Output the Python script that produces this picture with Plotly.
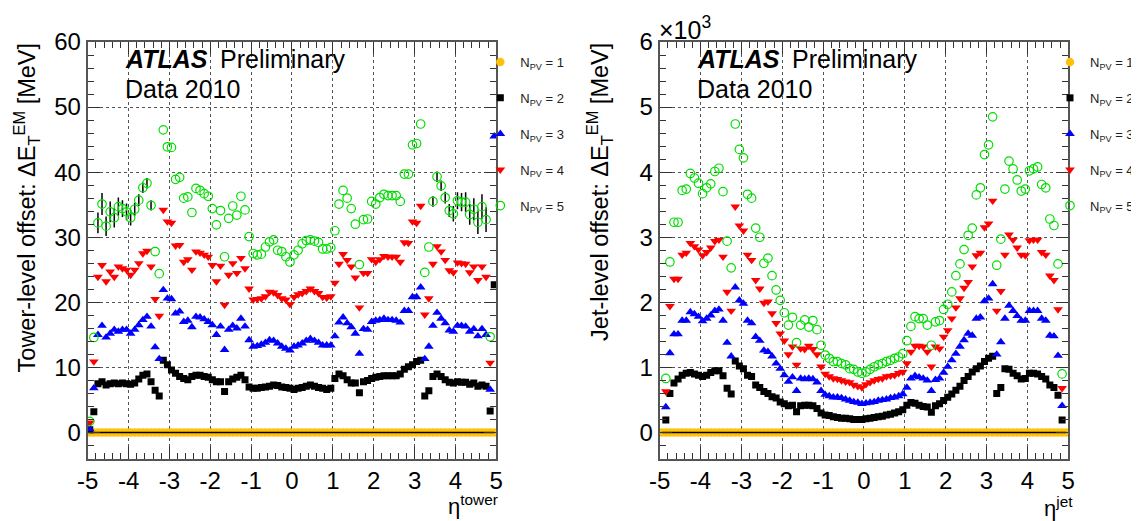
import plotly.graph_objects as go

# ---------------- data ----------------
eta_bins = [
    -4.95, -4.85, -4.75, -4.65, -4.55, -4.45, -4.35, -4.25, -4.15, -4.05,
    -3.95, -3.85, -3.75, -3.65, -3.55, -3.45, -3.35, -3.25, -3.15, -3.05,
    -2.95, -2.85, -2.75, -2.65, -2.55, -2.45, -2.35, -2.25, -2.15, -2.05,
    -1.95, -1.85, -1.75, -1.65, -1.55, -1.45, -1.35, -1.25, -1.15, -1.05,
    -0.95, -0.85, -0.75, -0.65, -0.55, -0.45, -0.35, -0.25, -0.15, -0.05,
    0.05, 0.15, 0.25, 0.35, 0.45, 0.55, 0.65, 0.75, 0.85, 0.95,
    1.05, 1.15, 1.25, 1.35, 1.45, 1.55, 1.65, 1.75, 1.85, 1.95,
    2.05, 2.15, 2.25, 2.35, 2.45, 2.55, 2.65, 2.75, 2.85, 2.95,
    3.05, 3.15, 3.25, 3.35, 3.45, 3.55, 3.65, 3.75, 3.85, 3.95,
    4.05, 4.15, 4.25, 4.35, 4.45, 4.55, 4.65, 4.75, 4.85, 4.95,
]

npv1_zero = [
    0, 0, 0, 0, 0, 0, 0, 0, 0, 0,
    0, 0, 0, 0, 0, 0, 0, 0, 0, 0,
    0, 0, 0, 0, 0, 0, 0, 0, 0, 0,
    0, 0, 0, 0, 0, 0, 0, 0, 0, 0,
    0, 0, 0, 0, 0, 0, 0, 0, 0, 0,
    0, 0, 0, 0, 0, 0, 0, 0, 0, 0,
    0, 0, 0, 0, 0, 0, 0, 0, 0, 0,
    0, 0, 0, 0, 0, 0, 0, 0, 0, 0,
    0, 0, 0, 0, 0, 0, 0, 0, 0, 0,
    0, 0, 0, 0, 0, 0, 0, 0, 0, 0,
]

# Tower-level offset [MeV]
tower_npv2 = [
    0.4, 3.2, 7.5, 7.8, 7.3, 7.5, 7.6, 7.5, 7.6, 7.5,
    7.4, 7.6, 8.2, 8.8, 9.0, 7.8, 6.5, 5.6, 11.1, 10.4,
    9.6, 9.1, 8.6, 8.3, 8.1, 8.6, 8.8, 8.8, 8.6, 8.5,
    8.1, 7.8, 7.8, 6.3, 7.8, 8.2, 8.5, 8.8, 8.1, 7.0,
    6.8, 6.8, 6.9, 7.0, 7.1, 7.3, 7.2, 7.0, 6.9, 6.8,
    6.6, 6.8, 6.9, 7.1, 7.3, 7.1, 6.9, 6.8, 6.6, 6.8,
    8.3, 9.0, 8.7, 8.1, 7.6, 7.6, 6.1, 7.8, 8.0, 8.3,
    8.5, 8.6, 8.7, 8.7, 8.7, 8.7, 9.0, 9.7, 10.1, 10.4,
    10.9, 11.1, 5.6, 6.4, 8.6, 9.0, 8.6, 8.1, 7.7, 7.6,
    7.8, 7.7, 7.7, 7.4, 7.6, 7.1, 7.3, 7.1, 3.3, 22.7,
]
tower_npv3 = [
    0.5, 6.8, 15.0, 16.4, 14.6, 15.2, 15.8, 15.5, 15.8, 15.8,
    15.2, 15.8, 16.5, 17.3, 17.8, 16.3, 13.1, 11.3, 21.9, 20.6,
    20.5, 18.3, 18.6, 17.0, 17.2, 16.2, 17.8, 17.7, 17.4, 17.0,
    16.5, 15.0, 16.3, 12.7, 15.8, 16.4, 16.0, 17.5, 16.3, 14.2,
    13.2, 13.3, 13.5, 13.8, 14.2, 14.1, 13.7, 13.2, 12.9, 12.6,
    13.2, 13.4, 13.7, 14.1, 14.4, 14.1, 13.8, 13.4, 13.4, 13.4,
    14.8, 16.9, 17.7, 16.8, 16.2, 15.2, 12.1, 15.9, 15.8, 17.0,
    17.2, 17.3, 17.5, 17.3, 17.3, 17.2, 16.9, 18.7, 18.7, 20.8,
    20.8, 22.3, 11.3, 13.2, 16.4, 18.4, 17.5, 16.8, 15.7, 15.5,
    16.4, 16.4, 16.3, 15.5, 15.9, 14.8, 15.9, 15.0, 6.6, 45.5,
]
tower_npv4 = [
    1.5, 10.9, 23.9, 25.7, 23.2, 24.7, 23.9, 25.5, 25.2, 25.0,
    24.2, 25.0, 26.0, 27.5, 27.9, 25.5, 20.5, 17.9, 34.2, 32.4,
    32.2, 28.7, 28.8, 26.2, 26.6, 25.0, 27.8, 27.6, 27.3, 27.0,
    25.7, 23.2, 25.6, 19.6, 24.2, 26.0, 24.5, 26.8, 25.2, 22.1,
    20.4, 20.5, 20.6, 20.9, 21.6, 21.5, 21.1, 20.6, 20.4, 19.7,
    20.8, 21.2, 21.4, 21.7, 22.1, 21.7, 21.4, 20.8, 20.7, 20.9,
    23.0, 25.9, 27.4, 26.5, 25.5, 23.8, 19.2, 24.5, 24.5, 26.6,
    26.2, 26.6, 27.1, 27.0, 27.0, 27.0, 26.2, 29.2, 29.1, 32.4,
    32.2, 34.8, 18.1, 20.6, 25.9, 28.6, 27.8, 26.5, 24.9, 24.6,
    26.1, 26.0, 25.9, 24.6, 25.5, 23.4, 25.5, 23.9, 10.7, None,
]
tower_npv5 = [
    1.7, 14.6, 32.2, 35.1, 31.7, 33.9, 33.0, 34.7, 34.4, 33.9,
    33.0, 34.3, 35.7, 37.6, 38.3, 34.9, 27.8, 24.4, 46.5, 43.9,
    43.8, 38.9, 39.2, 36.0, 36.2, 33.8, 37.5, 37.2, 36.7, 36.3,
    34.4, 31.9, 34.1, 27.0, 32.9, 34.8, 33.4, 36.3, 34.2, 30.1,
    27.5, 27.3, 27.4, 28.5, 29.3, 29.6, 28.0, 27.8, 27.0, 26.2,
    27.3, 28.0, 29.0, 29.5, 29.6, 29.4, 29.2, 28.2, 28.2, 28.4,
    31.0, 35.1, 37.2, 36.0, 34.4, 32.0, 25.8, 32.7, 32.8, 35.5,
    35.1, 36.1, 36.6, 36.4, 36.4, 36.4, 35.5, 39.7, 39.7, 44.2,
    44.4, 47.4, 24.6, 28.5, 35.5, 39.3, 37.9, 36.1, 34.1, 33.6,
    35.6, 35.4, 35.4, 33.5, 34.3, 32.3, 34.7, 32.7, 14.7, None,
]
tower_npv5_err = [
    0.0, 0.0, 1.6, 1.7, 1.5, 1.6, 1.5, 1.4, 1.3, 1.3,
    1.2, 1.0, 0.9, 0.8, 0.8, 0.8, 0.0, 0.0, 0.0, 0.0,
    0.0, 0.0, 0.0, 0.0, 0.0, 0.0, 0.0, 0.0, 0.0, 0.0,
    0.0, 0.0, 0.0, 0.0, 0.0, 0.0, 0.0, 0.0, 0.0, 0.0,
    0.0, 0.0, 0.0, 0.0, 0.0, 0.0, 0.0, 0.0, 0.0, 0.0,
    0.0, 0.0, 0.0, 0.0, 0.0, 0.0, 0.0, 0.0, 0.0, 0.0,
    0.0, 0.0, 0.0, 0.0, 0.0, 0.0, 0.0, 0.0, 0.0, 0.0,
    0.0, 0.0, 0.0, 0.0, 0.0, 0.0, 0.0, 0.0, 0.0, 0.0,
    0.0, 0.0, 0.0, 0.0, 0.8, 0.8, 0.8, 0.9, 1.0, 1.2,
    1.3, 1.4, 1.5, 1.6, 1.7, 1.8, 1.9, 1.9, 0.0, 0.0,
]

# Jet-level offset [10^3 MeV]
jet_npv2 = [
    None, 0.19, 0.60, 0.76, 0.82, 0.88, 0.91, 0.92, 0.90, 0.88,
    0.86, 0.88, 0.92, 0.95, 0.95, 0.87, 0.68, 0.59, 1.10, 1.02,
    0.98, 0.88, 0.86, 0.73, 0.69, 0.63, 0.60, 0.55, 0.53, 0.47,
    0.44, 0.41, 0.42, 0.32, 0.41, 0.42, 0.42, 0.41, 0.37, 0.30,
    0.27, 0.26, 0.24, 0.23, 0.22, 0.22, 0.21, 0.20, 0.20, 0.20,
    0.21, 0.22, 0.23, 0.24, 0.25, 0.27, 0.28, 0.30, 0.32, 0.35,
    0.42, 0.46, 0.45, 0.42, 0.40, 0.39, 0.31, 0.41, 0.44, 0.49,
    0.54, 0.59, 0.65, 0.71, 0.80, 0.86, 0.93, 0.98, 1.02, 1.09,
    1.14, 1.17, 0.60, 0.69, 0.98, 0.97, 0.91, 0.87, 0.82, 0.83,
    0.91, 0.91, 0.90, 0.86, 0.82, 0.73, 0.69, 0.57, 0.19, None,
]
jet_npv3 = [
    None, 0.39, 1.22, 1.51, 1.51, 1.72, 1.72, 1.85, 1.82, 1.78,
    1.71, 1.75, 1.80, 1.87, 1.89, 1.72, 1.38, 1.17, 2.23, 2.03,
    1.98, 1.72, 1.68, 1.47, 1.41, 1.26, 1.24, 1.17, 1.06, 0.98,
    0.88, 0.78, 0.85, 0.64, 0.83, 0.82, 0.83, 0.82, 0.77, 0.64,
    0.58, 0.56, 0.54, 0.54, 0.53, 0.51, 0.49, 0.47, 0.46, 0.44,
    0.45, 0.46, 0.47, 0.49, 0.50, 0.51, 0.53, 0.54, 0.56, 0.59,
    0.69, 0.83, 0.87, 0.85, 0.83, 0.80, 0.64, 0.81, 0.83, 0.92,
    1.01, 1.11, 1.21, 1.32, 1.42, 1.52, 1.49, 1.75, 1.77, 2.02,
    2.06, 2.28, 1.20, 1.39, 1.75, 1.95, 1.87, 1.79, 1.72, 1.72,
    1.87, 1.87, 1.87, 1.75, 1.72, 1.49, 1.48, 1.18, 0.41, None,
]
jet_npv4 = [
    None, 0.63, 1.94, 2.36, 2.36, 2.73, 2.76, 2.91, 2.86, 2.81,
    2.72, 2.77, 2.84, 2.94, 2.96, 2.70, 2.16, 1.87, 3.47, 3.18,
    3.10, 2.73, 2.65, 2.34, 2.21, 1.99, 2.01, 1.83, 1.68, 1.52,
    1.41, 1.20, 1.32, 1.04, 1.29, 1.28, 1.33, 1.28, 1.20, 1.01,
    0.90, 0.86, 0.83, 0.82, 0.80, 0.78, 0.77, 0.73, 0.71, 0.69,
    0.74, 0.77, 0.80, 0.82, 0.83, 0.86, 0.87, 0.88, 0.91, 0.93,
    1.06, 1.24, 1.33, 1.33, 1.32, 1.24, 1.01, 1.32, 1.29, 1.47,
    1.57, 1.75, 1.92, 2.06, 2.22, 2.31, 2.55, 2.72, 2.76, 3.15,
    3.21, 3.56, 1.87, 2.17, 2.73, 3.04, 2.96, 2.84, 2.73, 2.72,
    2.95, 2.96, 2.96, 2.77, 2.73, 2.41, 2.34, 1.89, 0.68, None,
]
jet_npv5 = [
    None, 0.83, 2.62, 3.23, 3.23, 3.72, 3.74, 3.98, 3.91, 3.83,
    3.67, 3.76, 3.82, 4.01, 4.06, 3.70, 2.94, 2.53, 4.74, 4.35,
    4.22, 3.66, 3.60, 3.14, 3.00, 2.60, 2.68, 2.41, 2.19, 2.03,
    1.84, 1.65, 1.77, 1.38, 1.65, 1.73, 1.62, 1.72, 1.58, 1.34,
    1.19, 1.14, 1.09, 1.09, 1.06, 1.04, 0.98, 0.97, 0.93, 0.91,
    0.93, 0.97, 1.01, 1.04, 1.06, 1.09, 1.11, 1.14, 1.16, 1.21,
    1.41, 1.63, 1.78, 1.75, 1.75, 1.65, 1.34, 1.70, 1.72, 1.89,
    1.97, 2.16, 2.41, 2.59, 2.81, 3.03, 3.14, 3.65, 3.76, 4.27,
    4.42, 4.85, 2.57, 2.97, 3.74, 4.17, 4.05, 3.88, 3.71, 3.74,
    4.02, 4.05, 4.08, 3.81, 3.76, 3.28, 3.18, 2.59, 0.90, None,
]

series_labels = ["N<sub>PV</sub> = 1", "N<sub>PV</sub> = 2", "N<sub>PV</sub> = 3",
                 "N<sub>PV</sub> = 4", "N<sub>PV</sub> = 5"]
left_yticks = [0, 10, 20, 30, 40, 50, 60]
right_yticks = [0, 1, 2, 3, 4, 5, 6]
x_ticks = [-5, -4, -3, -2, -1, 0, 1, 2, 3, 4, 5]

# ---------------- style ----------------
FONT = "Liberation Sans, Arial, Helvetica, sans-serif"
OFF = 8                      # page body margin of the browser
W, H = 1139 - OFF, 521 - OFF


def pxx(p):
    return (p - OFF) / W


def pxy(p):
    return 1 - (p - OFF) / H


marker_styles = [
    dict(symbol="circle", size=8.5, color="#FFC20A"),
    dict(symbol="square", size=7, color="black"),
    dict(symbol="triangle-up", size=8.5, color="#0000FF"),
    dict(symbol="triangle-down", size=8.5, color="#FF0000"),
    dict(symbol="circle-open", size=8.5, color="#00DD00", line=dict(width=1.2, color="#00DD00")),
]

fig = go.Figure()

panels = [
    dict(xa="x", ya="y", leg="legend",
         series=[npv1_zero, tower_npv2, tower_npv3, tower_npv4, tower_npv5],
         err5=tower_npv5_err),
    dict(xa="x2", ya="y2", leg="legend2",
         series=[npv1_zero, jet_npv2, jet_npv3, jet_npv4, jet_npv5],
         err5=None),
]

for p in panels:
    for k, (vals, ms, lab) in enumerate(zip(p["series"], marker_styles, series_labels)):
        tr = dict(x=eta_bins, y=vals, mode="markers", marker=ms, name=lab,
                  xaxis=p["xa"], yaxis=p["ya"], legend=p["leg"],
                  legendgroup=p["leg"] + str(k), cliponaxis=True, hoverinfo="skip")
        if k == 4 and p["err5"] is not None:
            tr["error_y"] = dict(type="data", array=p["err5"], visible=True,
                                 color="black", thickness=1.5, width=0)
        fig.add_trace(go.Scatter(**tr))
        if k == 0:
            # black horizontal bin-width error bars of the N_PV = 1 reference points
            fig.add_trace(go.Scatter(x=eta_bins, y=vals, mode="lines",
                                     line=dict(color="black", width=1.5),
                                     xaxis=p["xa"], yaxis=p["ya"], showlegend=False,
                                     legend=p["leg"], legendgroup=p["leg"] + "0",
                                     hoverinfo="skip"))

ydom = [pxy(458.5), pxy(42)]


def xaxis_cfg(dom, anchor):
    return dict(domain=dom, anchor=anchor, range=[-5, 5], tickvals=x_ticks,
                ticktext=[str(t) for t in x_ticks],
                showline=True, linecolor="#555555", linewidth=2, mirror="ticks",
                ticks="inside", ticklen=12, tickwidth=1, tickcolor="#333333",
                showgrid=True, gridcolor="#555555", griddash="dot", gridwidth=1,
                zeroline=False, tickfont=dict(family=FONT, size=24, color="black"),
                minor=dict(ticks="inside", ticklen=6, dtick=0.2, tickcolor="#333333",
                           tickwidth=1, showgrid=False),
                automargin=False, fixedrange=True)


def yaxis_cfg(anchor, rng, tv, minor_dt):
    return dict(domain=ydom, anchor=anchor, range=rng, tickvals=tv,
                ticktext=[str(t) for t in tv],
                showline=True, linecolor="#555555", linewidth=2, mirror="ticks",
                ticks="inside", ticklen=12, tickwidth=1, tickcolor="#333333",
                showgrid=True, gridcolor="#555555", griddash="dot", gridwidth=1,
                zeroline=False, tickfont=dict(family=FONT, size=24, color="black"),
                minor=dict(ticks="inside", ticklen=6, dtick=minor_dt, tickcolor="#333333",
                           tickwidth=1, showgrid=False),
                automargin=False, fixedrange=True)


leg_common = dict(xanchor="left", yanchor="top", bgcolor="rgba(0,0,0,0)",
                  font=dict(family=FONT, size=13, color="#222222"),
                  traceorder="grouped", tracegroupgap=16, itemsizing="trace",
                  borderwidth=0)

fig.update_layout(
    width=W, height=H,
    margin=dict(l=0, r=0, t=0, b=0),
    paper_bgcolor="white", plot_bgcolor="white",
    font=dict(family=FONT, color="black"),
    xaxis=xaxis_cfg([pxx(88), pxx(498)], "y"),
    yaxis=yaxis_cfg("x", [-4, 60], left_yticks, 2),
    xaxis2=xaxis_cfg([pxx(662), pxx(1072)], "y2"),
    yaxis2=yaxis_cfg("x2", [-0.4, 6], right_yticks, 0.2),
    legend=dict(x=pxx(482), y=pxy(47), **leg_common),
    legend2=dict(x=pxx(1054), y=pxy(47), **leg_common),
    showlegend=True,
)

ann = []
for x0, y_title, ytxt in [
    (123, "Tower-level offset: ΔE<sub>T</sub><sup>EM</sup> [MeV]", 27),
    (697, "Jet-level offset: ΔE<sub>T</sub><sup>EM</sup> [MeV]", 601),
]:
    ann.append(dict(x=pxx(x0), y=pxy(59), xref="paper", yref="paper", xanchor="left",
                    yanchor="middle", showarrow=False, text="<b><i>ATLAS</i></b>",
                    font=dict(family=FONT, size=25, color="black")))
    ann.append(dict(x=pxx(x0 + 96), y=pxy(59), xref="paper", yref="paper", xanchor="left",
                    yanchor="middle", showarrow=False, text="Preliminary",
                    font=dict(family=FONT, size=25, color="black")))
    ann.append(dict(x=pxx(x0), y=pxy(89), xref="paper", yref="paper", xanchor="left",
                    yanchor="middle", showarrow=False, text="Data 2010",
                    font=dict(family=FONT, size=25, color="black")))
    ann.append(dict(x=pxx(ytxt), y=pxy(41), xref="paper", yref="paper", xanchor="center",
                    yanchor="top", textangle=-90, showarrow=False, text=y_title,
                    font=dict(family=FONT, size=23.5, color="black")))

ann.append(dict(x=pxx(502), y=pxy(505), xref="paper", yref="paper", xanchor="right",
                yanchor="middle", showarrow=False, text="η<sup>tower</sup>",
                font=dict(family=FONT, size=22, color="black")))
ann.append(dict(x=pxx(1079), y=pxy(507), xref="paper", yref="paper", xanchor="right",
                yanchor="middle", showarrow=False, text="η<sup>jet</sup>",
                font=dict(family=FONT, size=22, color="black")))
ann.append(dict(x=pxx(659), y=pxy(28), xref="paper", yref="paper", xanchor="left",
                yanchor="middle", showarrow=False, text="×10<sup>3</sup>",
                font=dict(family=FONT, size=25, color="black")))
fig.update_layout(annotations=ann)

fig.write_html("out.html")
